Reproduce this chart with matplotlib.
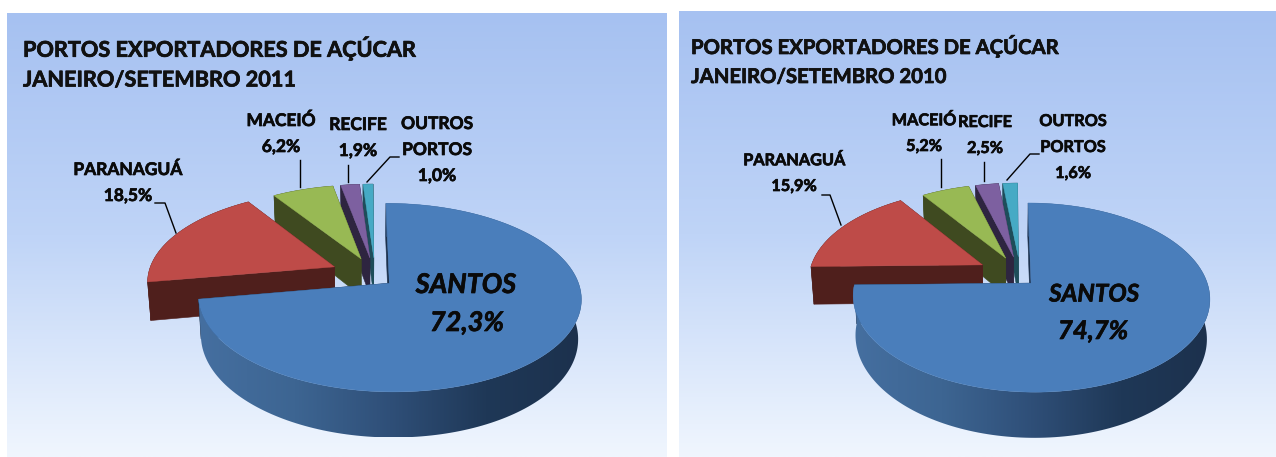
import numpy as np
import matplotlib
matplotlib.use("Agg")
import matplotlib.pyplot as plt
import matplotlib.patheffects as pe
from matplotlib.colors import LinearSegmentedColormap
from matplotlib.patches import Polygon

# shares, in percent, clockwise from 12 o'clock
ports = ["SANTOS", "PARANAGUÁ", "MACEIÓ", "RECIFE", "OUTROS PORTOS"]
shares_2011 = [72.3, 18.5, 6.2, 1.9, 1.0]
shares_2010 = [74.7, 15.9, 5.2, 2.5, 1.6]
title_line1 = "PORTOS EXPORTADORES DE AÇÚCAR"
title_2011 = "JANEIRO/SETEMBRO 2011"
title_2010 = "JANEIRO/SETEMBRO 2010"

top_colors = ["#4a7ebb", "#be4b48", "#98b954", "#7d60a0", "#46aac5"]
side_colors = ["#1c314d", "#4f1f1c", "#3f4a20", "#2e2540", "#1e4d5a"]
FONT = "Lato"
TILT = 0.15      # perspective
EXPLODE = 0.175
NUDGE = [0, 0, 9, 10, 11]   # small slices sit a bit further right, in px
W, H = 1276, 457
BOLD = [pe.withStroke(linewidth=0.5, foreground="#0a0a0a")]

wall_cmap = LinearSegmentedColormap.from_list(
    "wall", ["#456fa0", "#3d6592", "#2f4f78", "#1f3857", "#1c314d"])


def project(X, Y, geo):
    s = 1 / (1 + TILT * Y)
    return geo["cx"] + geo["rx"] * X * s, geo["cy"] - geo["ry"] * Y * s, s


def lower(x, y, s, geo):
    # same point on the bottom face of the slab
    return geo["cx"] + (x - geo["cx"]) * 0.985, y + geo["depth"] * s


def draw_pie(ax, shares, geo):
    edges = np.radians(np.concatenate([[0], np.cumsum(shares)]) * 3.6)
    # painter's order, back to front: small slices first, Santos last
    for i in [4, 3, 2, 1, 0]:
        a0, a1 = edges[i], edges[i + 1]
        mid = (a0 + a1) / 2
        ox, oy = EXPLODE * np.sin(mid), EXPLODE * np.cos(mid)
        th = np.linspace(a0, a1, 200)
        x, y, s = project(ox + np.sin(th), oy + np.cos(th), geo)
        ax0, ay0, as0 = project(ox, oy, geo)
        x = x + NUDGE[i]
        ax0 = ax0 + NUDGE[i]
        xb, yb = lower(x, y, s, geo)
        bx0, by0 = lower(ax0, ay0, as0, geo)

        # cut faces
        for k in (0, -1):
            ax.add_patch(Polygon([(ax0, ay0), (x[k], y[k]), (xb[k], yb[k]), (bx0, by0)],
                                 fc=side_colors[i], ec=side_colors[i], lw=0.4))
        # outer wall, Santos gets the horizontal shading
        wall = np.vstack([np.column_stack([x, y]), np.column_stack([xb, yb])[::-1]])
        if i == 0:
            patch = Polygon(wall, fc="none", ec="none")
            ax.add_patch(patch)
            shade = np.linspace(0, 1, 256).reshape(1, -1)
            im = ax.imshow(shade, cmap=wall_cmap, aspect="auto", zorder=1,
                           extent=(x.min(), x.max(), yb.max(), y.min()))
            im.set_clip_path(patch)
        else:
            ax.add_patch(Polygon(wall, fc=side_colors[i], ec=side_colors[i], lw=0.4))
        # top face
        ax.add_patch(Polygon(np.vstack([[ax0, ay0], np.column_stack([x, y])]),
                             fc=top_colors[i], ec=top_colors[i], lw=0.3, zorder=1.5 if i == 0 else 1))


def label(ax, x, y, lines, size=12.5, gap=26):
    for n, t in enumerate(lines):
        ax.text(x, y + n * gap, t, ha="center", va="center", fontsize=size,
                fontweight="bold", family=FONT, color="#0a0a0a", path_effects=BOLD)


def big_label(ax, x, y, t, size=19.5):
    ax.text(x, y, t, ha="center", va="center", fontsize=size, fontweight="bold",
            style="italic", family=FONT, color="#0a0a0a", path_effects=BOLD)


def pct(v):
    return f"{v:.1f}%".replace(".", ",")


fig = plt.figure(figsize=(W / 100, H / 100), dpi=100, facecolor="white")
ax = fig.add_axes([0, 0, 1, 1])
ax.axis("off")

bg = LinearSegmentedColormap.from_list("bg", ["#a6c1f1", "#bfd4f7", "#f0f6fe"])
grad = np.linspace(0, 1, 256).reshape(-1, 1)
ax.imshow(grad, cmap=bg, extent=(7, 667, 457, 13), aspect="auto", zorder=0)
ax.imshow(grad, cmap=bg, extent=(679, 1276, 457, 11), aspect="auto", zorder=0)

geo_2011 = dict(cx=364, cy=273, rx=186, ry=89, depth=38)
geo_2010 = dict(cx=1009, cy=272, rx=173, ry=89, depth=38)
draw_pie(ax, shares_2011, geo_2011)
draw_pie(ax, shares_2010, geo_2010)

# titles, the 2010 panel is drawn a little narrower
for x, y0, y1, t2, size in [(23, 48, 80, title_2011, 15.6), (691, 46, 77, title_2010, 14.6)]:
    for y, t in [(y0, title_line1), (y1, t2)]:
        ax.text(x, y, t, va="center", fontsize=size, fontweight="bold", family=FONT,
                color="#111111", path_effects=BOLD)

# labels 2011
label(ax, 128, 170, [ports[1], pct(shares_2011[1])])
label(ax, 281, 121, [ports[2], pct(shares_2011[2])])
label(ax, 358, 125, [ports[3], pct(shares_2011[3])])
label(ax, 437, 124, ["OUTROS", "PORTOS", pct(shares_2011[4])])
big_label(ax, 466, 285, ports[0])
big_label(ax, 467, 323, pct(shares_2011[0]))

# labels 2010
label(ax, 794, 161, [ports[1], pct(shares_2010[1])], size=11.7)
label(ax, 924, 121, [ports[2], pct(shares_2010[2])], size=11.7)
label(ax, 985, 123, [ports[3], pct(shares_2010[3])], size=11.7)
label(ax, 1073, 122, ["OUTROS", "PORTOS", pct(shares_2010[4])], size=11.7)
big_label(ax, 1094, 294, ports[0], size=17.5)
big_label(ax, 1093, 331, pct(shares_2010[0]), size=18.5)

# leader lines
leaders = [
    [(155, 203), (165, 203), (176, 233)], [(300, 160), (300, 187)],
    [(348, 165), (348, 182)], [(399, 157), (390, 157), (367, 182)],
    [(822, 195), (830, 195), (841, 225)], [(941, 159), (941, 187)],
    [(984, 162), (984, 181)], [(1039, 154), (1030, 154), (1007, 180)],
]
for pts in leaders:
    px, py = zip(*pts)
    ax.plot(px, py, color="black", lw=1)

ax.set_xlim(0, W)
ax.set_ylim(H, 0)
fig.savefig("out.png", dpi=100, facecolor="white")
